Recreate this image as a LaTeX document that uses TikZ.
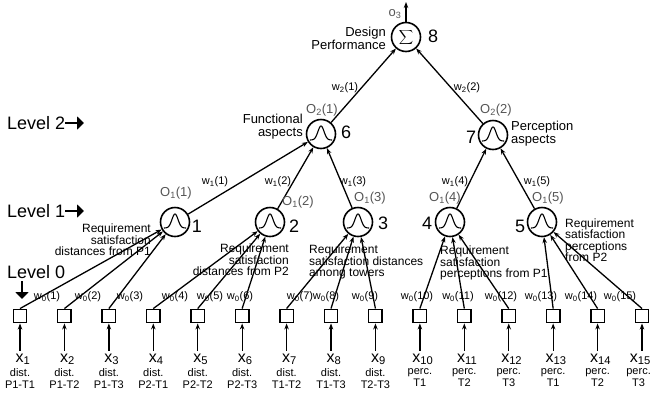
\documentclass[tikz,border=0pt]{standalone}
\usepackage{fontspec}
\setmainfont{Liberation Sans}
\usetikzlibrary{arrows.meta}
\definecolor{olabel}{RGB}{85,85,85}
% gaussian bump drawn inside a neuron
\newcommand{\bump}[1]{\draw[line width=1.1pt, shift={(#1)}] plot[domain=-11:11, samples=45, smooth] (\x, {6-14*exp(-((\x/4.3)^2))});}

\begin{document}
\begin{tikzpicture}[x=1pt, y=-1pt, >={Stealth[length=6pt,width=4.5pt]},
  every node/.style={inner sep=0pt},
  neuron/.style={circle, draw, line width=1.6pt, minimum size=29pt},
  inbox/.style={draw, line width=1.4pt, minimum size=13.5pt},
  lnk/.style={->, line width=1.3pt},
  lvl/.style={font=\fontsize{18}{18}\selectfont, anchor=west},
  lvlarrow/.style={line width=1.8pt, -{Triangle[length=7pt,width=13pt]}},
  num/.style={font=\fontsize{18}{18}\selectfont},
  olab/.style={font=\fontsize{13}{13}\selectfont, text=olabel},
  wlab/.style={font=\fontsize{11}{11}\selectfont},
  desc/.style={font=\fontsize{13}{13}\selectfont},
  req/.style={font=\fontsize{12}{11.5}\selectfont},
  xlab/.style={font=\fontsize{16}{16}\selectfont, anchor=base, inner sep=2.5pt},
  sublab/.style={font=\fontsize{11}{12}\selectfont, align=center, anchor=north}]
\useasboundingbox (0,0) rectangle (652,397);
% Neurons
\node[neuron] (n8) at (406,37) {\fontsize{12}{12}\selectfont$\displaystyle\sum$};
\node[neuron] (n6) at (321,134) {};
\node[neuron] (n7) at (493,135) {};
\node[neuron] (n1) at (175,222) {};
\node[neuron] (n2) at (270,222) {};
\node[neuron] (n3) at (358,222) {};
\node[neuron] (n4) at (450,222) {};
\node[neuron] (n5) at (542,222) {};
\foreach \n in {n1,n2,n3,n4,n5,n6,n7} {\bump{\n}}
% Output
\coordinate (out) at (406,2);
\draw[lnk] (n8) -- (out);
\node[olab] (o3) at (395,14) {o\textsubscript{3}};
% Upper links
\draw[lnk] (n6) -- (n8);
\draw[lnk] (n7) -- (n8);
\draw[lnk] (n1) -- (n6);
\draw[lnk] (n2) -- (n6);
\draw[lnk] (n3) -- (n6);
\draw[lnk] (n4) -- (n7);
\draw[lnk] (n5) -- (n7);
% Inputs
\foreach \i/\n/\lab in {1/1/{dist.\\P1-T1},2/1/{dist.\\P1-T2},3/1/{dist.\\P1-T3},
    4/2/{dist.\\P2-T1},5/2/{dist.\\P2-T2},6/2/{dist.\\P2-T3},
    7/3/{dist.\\T1-T2},8/3/{dist.\\T1-T3},9/3/{dist.\\T2-T3},
    10/4/{perc.\\T1},11/4/{perc.\\T2},12/4/{perc.\\T3},
    13/5/{perc.\\T1},14/5/{perc.\\T2}} {
  \pgfmathsetmacro{\xx}{20+44.43*(\i-1)}
  \node[inbox] (b\i) at (\xx,316) {};
  \node[xlab] (x\i) at (\xx+3,362) {x\textsubscript{\i}};
  \node[sublab] (s\i) at (\xx,368) {\lab};
  \draw[lnk] (x\i.north -| b\i) -- (b\i);
  \draw[lnk] (b\i.north) -- (n\n);
}
% last input sits against the right edge
\node[inbox] (b15) at (642,316) {};
\node[xlab, anchor=base east, inner xsep=1pt] (x15) at (652,362) {x\textsubscript{15}};
\node[sublab, anchor=north east, inner xsep=1pt] (s15) at (652,368) {perc.\\T3};
\draw[lnk] (x15.north -| b15) -- (b15);
\draw[lnk] (b15.north) -- (n5);
% Weights
\foreach \i/\wx in {1/47,2/88,3/130,4/175,5/210,6/240,7/300,8/326,9/365,
    10/417,11/458,12/501,13/541,14/581,15/620}
  \node[wlab] (wa\i) at (\wx,297) {w\textsubscript{0}(\i)};
\node[wlab] (wb1) at (215,182) {w\textsubscript{1}(1)};
\node[wlab] (wb2) at (278,182) {w\textsubscript{1}(2)};
\node[wlab] (wb3) at (353,182) {w\textsubscript{1}(3)};
\node[wlab] (wb4) at (455,182) {w\textsubscript{1}(4)};
\node[wlab] (wb5) at (537,182) {w\textsubscript{1}(5)};
\node[wlab] (wc1) at (345,88) {w\textsubscript{2}(1)};
\node[wlab] (wc2) at (467,88) {w\textsubscript{2}(2)};
% Outputs of neurons
\node[olab] (oa1) at (176,193) {O\textsubscript{1}(1)};
\node[olab] (oa2) at (298,202) {O\textsubscript{1}(2)};
\node[olab] (oa3) at (370,198) {O\textsubscript{1}(3)};
\node[olab] (oa4) at (445,198) {O\textsubscript{1}(4)};
\node[olab] (oa5) at (548,198) {O\textsubscript{1}(5)};
\node[olab] (ob1) at (322,110) {O\textsubscript{2}(1)};
\node[olab] (ob2) at (496,110) {O\textsubscript{2}(2)};
% Numbers
\node[num] (k1) at (197,226) {1};
\node[num] (k2) at (294,226) {2};
\node[num] (k3) at (383,223) {3};
\node[num] (k4) at (427,223) {4};
\node[num] (k5) at (520,226) {5};
\node[num] (k6) at (346,132) {6};
\node[num] (k7) at (471,137) {7};
\node[num] (k8) at (433,36) {8};
% Descriptions
\node[desc, align=right, anchor=east] (dperf) at (386,38) {Design\\Performance};
\node[desc, align=right, anchor=east] (dfun) at (303,127) {Functional\\aspects};
\node[desc, align=left, anchor=west] (dper) at (511,134) {Perception\\aspects};
\node[req, align=right, anchor=east] (r1) at (151,240) {Requirement\\satisfaction\\distances from P1};
\node[req, align=right, anchor=east] (r2) at (289,260) {Requirement\\satisfaction\\distances from P2};
\node[req, align=left, anchor=west] (r3) at (309,262) {Requirement\\satisfaction distances\\among towers};
\node[req, align=left, anchor=west] (r4) at (440,263) {Requirement\\satisfaction\\perceptions from P1};
\node[req, align=left, anchor=west] (r5) at (565,240) {Requirement\\satisfaction\\perceptions\\from P2};
% Levels
\node[lvl] (lv2) at (7,123) {Level 2};
\node[lvl] (lv1) at (7,211) {Level 1};
\node[lvl] (lv0) at (7,272) {Level 0};
\coordinate (lv2e) at (84,123);
\coordinate (lv1e) at (84,211);
\coordinate (lv0a) at (22,281);
\coordinate (lv0b) at (22,299);
\draw[lvlarrow] (lv2.east) -- (lv2e);
\draw[lvlarrow] (lv1.east) -- (lv1e);
\draw[lvlarrow] (lv0a) -- (lv0b);
\end{tikzpicture}
\end{document}
